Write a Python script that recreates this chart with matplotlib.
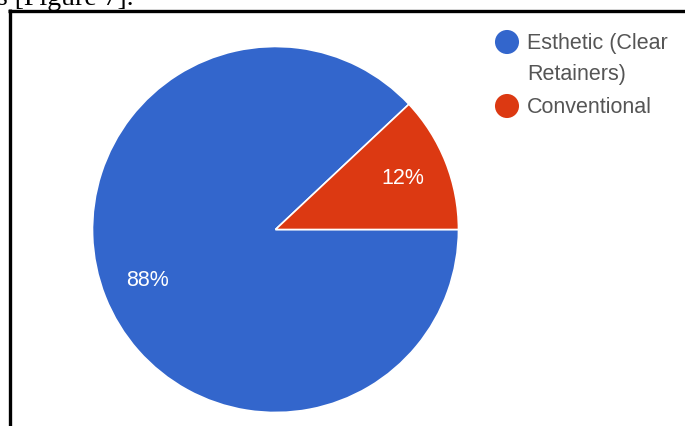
import matplotlib
matplotlib.use('Agg')
import matplotlib.pyplot as plt

# Data
categories = ['Esthetic (Clear\nRetainers)', 'Conventional']
shares = [88, 12]
colors = ['#3366CC', '#DC3912']

W, H = 685, 426
fig = plt.figure(figsize=(W / 100, H / 100), dpi=100)

# pie: center (275.5, 229.5) px from top-left, radius 183 px
cx, cy, r = 275.5, 229.5, 183
ax = fig.add_axes([(cx - r) / W, (H - cy - r) / H, 2 * r / W, 2 * r / H])
start = 360 * shares[1] / sum(shares)
wedges, _, autotexts = ax.pie(
    shares, colors=colors, startangle=start, counterclock=True,
    autopct='%d%%', pctdistance=0.75, radius=1,
    wedgeprops=dict(edgecolor='white', linewidth=1.2),
    textprops=dict(color='white', fontsize=15.5, family='Liberation Sans'))
ax.set_xlim(-1, 1)
ax.set_ylim(-1, 1)
ax.axis('off')

# overlay in pixel coords for legend, frame lines and the cropped caption
ov = fig.add_axes([0, 0, 1, 1], zorder=5)
ov.set_xlim(0, W)
ov.set_ylim(H, 0)
ov.axis('off')
ov.patch.set_alpha(0)

leg_y = [42, 106]
for lab, col, y in zip(categories, colors, leg_y):
    ov.scatter([507], [y], s=300, color=col, edgecolors='none')
    ov.text(527, y - 9, lab, color='#555555', fontsize=15.5, family='Liberation Sans',
            va='top', ha='left', linespacing=1.6)

ov.plot([8, W], [10.5, 10.5], color='black', lw=2.4, solid_capstyle='butt')
ov.plot([10.3, 10.3], [9.3, H], color='black', lw=2.4, solid_capstyle='butt')
ov.text(-3, 5, 's [Figure 7].', fontsize=20, family='Liberation Serif',
        color='black', va='baseline', ha='left')

fig.savefig('out.png', dpi=100)
